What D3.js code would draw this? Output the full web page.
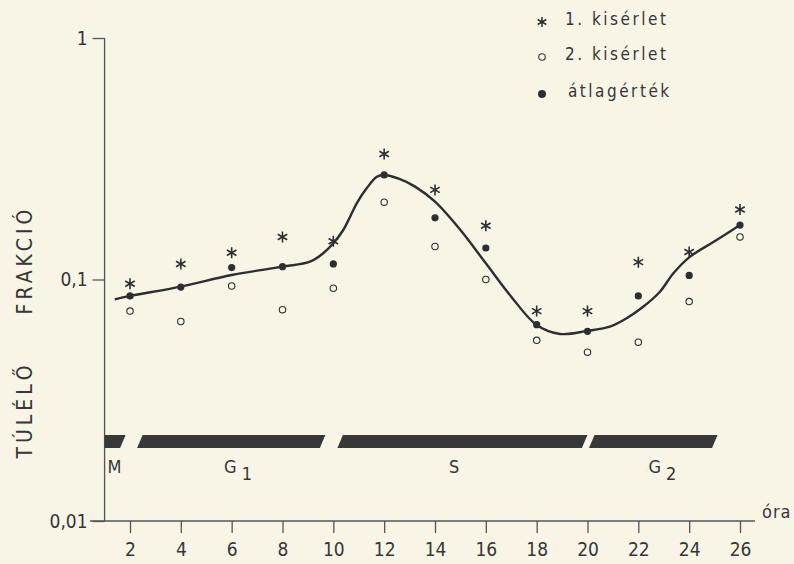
<!doctype html>
<html lang="hu">
<head>
  <meta charset="utf-8">
  <title>Túlélő frakció</title>
  <style>
  body {
    margin: 0;
    background: #f8f5e6;
  }
  svg {
    display: block;
    background: #f8f5e6;
  }
  text {
    font-family: "DejaVu Sans Condensed", "Liberation Sans Narrow", "DejaVu Sans", sans-serif;
    fill: #363636;
  }
  .axis path, .axis line {
    stroke: #555;
    stroke-width: 1.3;
  }
  .axis text {
    font-size: 19px;
    fill: #363636;
  }
  </style>
</head>
<body>
  <div id="chart"></div>
  <script src="https://cdn.jsdelivr.net/npm/d3@7"></script>
  <script>
    (function() {

      var width = 794,
          height = 564;

      // hours after synchronisation
      var hours = [2, 4, 6, 8, 10, 12, 14, 16, 18, 20, 22, 24, 26];
      // surviving fraction
      var exp1 = [0.096, 0.116, 0.129, 0.150, 0.144, 0.331, 0.235, 0.167, 0.074, 0.074, 0.118, 0.130, 0.195];
      var exp2 = [0.074, 0.067, 0.094, 0.075, 0.092, 0.209, 0.137, 0.100, 0.056, 0.050, 0.055, 0.081, 0.150];
      var mean = [0.0855, 0.093, 0.112, 0.113, 0.116, 0.271, 0.180, 0.135, 0.065, 0.061, 0.0855, 0.104, 0.168];

      // fitted curve
      var curveHours = [1.4, 2, 4, 6, 8, 9.08, 9.6, 10, 10.39, 10.66, 10.92, 11.31, 11.71, 12, 12.6, 13.2, 14, 15, 16, 17, 18,
                        18.92, 20.03, 20.88, 21.54, 22.19, 22.85, 23.38, 24, 25, 26];
      var curveValues = [0.0828, 0.0855, 0.0934, 0.1044, 0.113, 0.1185, 0.1284, 0.1412, 0.1603, 0.182, 0.2068, 0.2385, 0.2665,
                         0.271, 0.261, 0.243, 0.21, 0.1603, 0.1167, 0.0849, 0.0648,
                         0.0595, 0.0614, 0.0638, 0.0691, 0.0771, 0.089, 0.1061, 0.1235, 0.144, 0.1681];

      // cell cycle phases
      var phases = ['M', 'G1', 'S', 'G2'];
      var phaseStart = [0.8, 2.28, 10.16, 20.06];
      var phaseEnd = [1.61, 9.47, 19.78, 24.9];
      var phaseLabelHour = [1.39, 6.25, 14.75, 22.95];

      var yTicks = [1, 0.1, 0.01];
      var yTickLabels = ['1', '0,1', '0,01'];

      var legendLabels = ['1. kisérlet', '2. kisérlet', 'átlagérték'];

      var x = d3.scaleLinear().domain([2, 26]).range([130, 740]);
      var y = d3.scaleLog().domain([0.01, 1]).range([521, 38]);

      var ink = '#2e2e2e';

      var svg = d3.select('#chart')
          .append('svg')
          .attr('width', width)
          .attr('height', height);

      // axes
      var xAxis = d3.axisBottom(x)
          .tickValues(hours)
          .tickSize(12)
          .tickSizeOuter(0)
          .tickPadding(6);

      var gx = svg.append('g')
          .attr('class', 'axis')
          .attr('transform', 'translate(0,' + y(0.01) + ')')
          .call(xAxis);
      gx.select('.domain').remove();
      gx.selectAll('text').attr('dy', '0.9em');

      svg.append('line')
          .attr('x1', 90).attr('x2', 755)
          .attr('y1', y(0.01)).attr('y2', y(0.01))
          .attr('stroke', '#555').attr('stroke-width', 1.3);

      var yAxis = d3.axisLeft(y)
          .tickValues(yTicks)
          .tickFormat(function(d, i) { return yTickLabels[i]; })
          .tickSize(12)
          .tickSizeOuter(0)
          .tickPadding(5);

      var gy = svg.append('g')
          .attr('class', 'axis')
          .attr('transform', 'translate(' + x(1) + ',0)')
          .call(yAxis);
      gy.select('.domain').remove();

      svg.append('line')
          .attr('x1', x(1)).attr('x2', x(1))
          .attr('y1', y(1)).attr('y2', y(0.01))
          .attr('stroke', '#555').attr('stroke-width', 1.3);

      svg.append('text')
          .attr('x', 762).attr('y', 518)
          .style('font-size', '18px')
          .style('letter-spacing', '1px')
          .text('óra');

      // y title
      var ytitle = [['TÚLÉLŐ', 410], ['FRAKCIÓ', 260]];
      svg.selectAll('.ytitle')
          .data(ytitle)
        .enter().append('text')
          .attr('class', 'ytitle')
          .attr('transform', function(d) { return 'translate(32,' + d[1] + ') rotate(-90)'; })
          .attr('text-anchor', 'middle')
          .style('font-size', '21px')
          .style('letter-spacing', '4px')
          .text(function(d) { return d[0]; });

      // phase bars
      var barTop = 435, barBottom = 448, slant = 5.5;
      svg.append('clipPath').attr('id', 'plotclip')
        .append('rect')
          .attr('x', x(1)).attr('y', 0)
          .attr('width', width).attr('height', height);

      svg.append('g')
          .attr('clip-path', 'url(#plotclip)')
        .selectAll('path')
          .data(phases)
        .enter().append('path')
          .attr('d', function(d, i) {
            var a = x(phaseStart[i]), b = x(phaseEnd[i]);
            return 'M' + a + ',' + barBottom + 'L' + (a + slant) + ',' + barTop +
                   'L' + (b + slant) + ',' + barTop + 'L' + b + ',' + barBottom + 'Z';
          })
          .attr('fill', '#383838');

      var pl = svg.selectAll('.phase')
          .data(phases)
        .enter().append('text')
          .attr('class', 'phase')
          .attr('x', function(d, i) { return x(phaseLabelHour[i]); })
          .attr('y', 473)
          .attr('text-anchor', 'middle')
          .style('font-size', '18px');
      pl.append('tspan').text(function(d) { return d.charAt(0); });
      pl.append('tspan')
          .attr('dx', 5)
          .attr('dy', 7)
          .text(function(d) { return d.slice(1); });

      // fitted curve
      var line = d3.line()
          .x(function(d, i) { return x(curveHours[i]); })
          .y(function(d) { return y(d); })
          .curve(d3.curveCatmullRom.alpha(0.5));

      svg.append('path')
          .datum(curveValues)
          .attr('d', line)
          .attr('fill', 'none')
          .attr('stroke', ink)
          .attr('stroke-width', 2.4);

      var star = function(r) {
        var p = '';
        [90, 30, 150].forEach(function(a) {
          var dx = r * Math.cos(a * Math.PI / 180), dy = r * Math.sin(a * Math.PI / 180);
          p += 'M' + (-dx) + ',' + (-dy) + 'L' + dx + ',' + dy;
        });
        return p;
      };

      // experiment 1 - stars
      svg.selectAll('.exp1')
          .data(exp1)
        .enter().append('path')
          .attr('class', 'exp1')
          .attr('transform', function(d, i) { return 'translate(' + x(hours[i]) + ',' + y(d) + ')'; })
          .attr('d', star(5.5))
          .attr('stroke', ink)
          .attr('stroke-width', 1.6);

      // experiment 2 - open circles
      svg.selectAll('.exp2')
          .data(exp2)
        .enter().append('circle')
          .attr('class', 'exp2')
          .attr('cx', function(d, i) { return x(hours[i]); })
          .attr('cy', function(d) { return y(d); })
          .attr('r', 3.2)
          .attr('fill', 'none')
          .attr('stroke', ink)
          .attr('stroke-width', 1.1);

      // mean - filled dots
      svg.selectAll('.mean')
          .data(mean)
        .enter().append('circle')
          .attr('class', 'mean')
          .attr('cx', function(d, i) { return x(hours[i]); })
          .attr('cy', function(d) { return y(d); })
          .attr('r', 3.6)
          .attr('fill', ink);

      // legend
      var legend = svg.append('g').attr('transform', 'translate(542,0)');
      var legendY = [22, 57, 94];
      legend.append('path')
          .attr('transform', 'translate(0,' + legendY[0] + ')')
          .attr('d', star(5))
          .attr('stroke', ink).attr('stroke-width', 1.5);
      legend.append('circle')
          .attr('cy', legendY[1]).attr('r', 3.3)
          .attr('fill', 'none').attr('stroke', ink).attr('stroke-width', 1.1);
      legend.append('circle')
          .attr('cy', legendY[2]).attr('r', 4)
          .attr('fill', ink);
      legend.selectAll('text')
          .data(legendLabels)
        .enter().append('text')
          .attr('x', function(d, i) { return i == 2 ? 26 : 23; })
          .attr('y', function(d, i) { return legendY[i] + 3; })
          .style('font-size', '17px')
          .style('letter-spacing', '2.5px')
          .text(function(d) { return d; });

    })();
  </script>
</body>
</html>
